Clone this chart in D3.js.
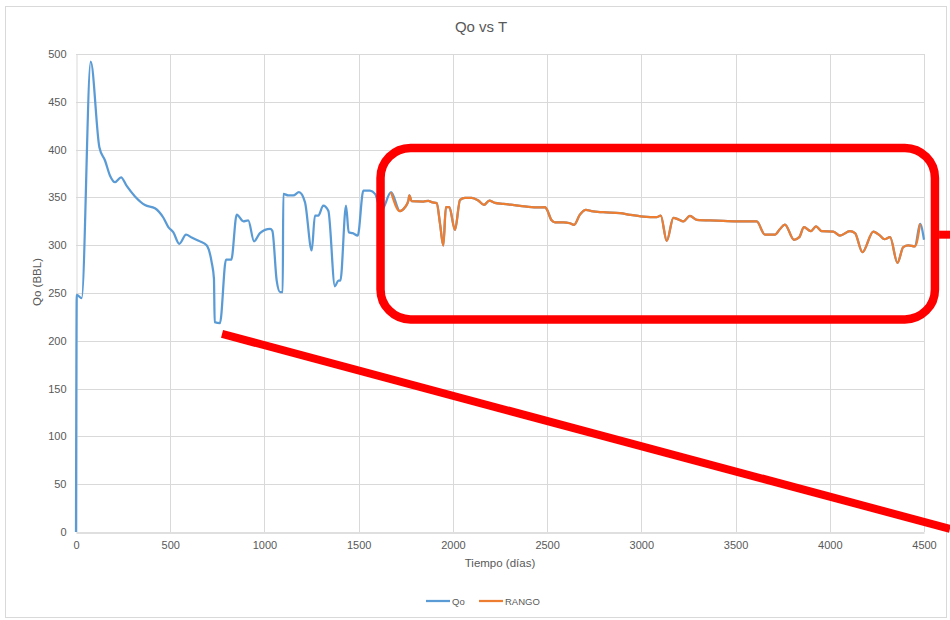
<!DOCTYPE html>
<html>
<head>
<meta charset="utf-8">
<script src="https://cdn.jsdelivr.net/npm/d3@7/dist/d3.min.js"></script>
<style>
  html, body { margin: 0; padding: 0; background: #fff; }
  svg { display: block; font-family: "Liberation Sans", Arial, sans-serif; }
</style>
</head>
<body>
<svg id="chart" width="950" height="620"></svg>
<script>
// ---- data ----
const tiempo = [0, 4, 30, 78, 124, 154, 180, 207, 239, 269, 313, 366, 419, 463, 490, 516, 548, 584, 614, 658, 693, 720, 732, 736, 764, 796, 824, 853, 888, 914, 945, 976, 1030, 1042, 1065, 1083, 1097, 1100, 1127, 1153, 1183, 1215, 1251, 1268, 1286, 1312, 1339, 1374, 1392, 1403, 1433, 1447, 1468, 1495, 1525, 1560, 1587, 1620, 1672, 1719, 1746, 1764, 1769, 1781, 1843, 1870, 1887, 1914, 1932, 1949, 1963, 1981, 2011, 2038, 2064, 2100, 2135, 2165, 2193, 2223, 2268, 2356, 2445, 2489, 2497, 2524, 2542, 2586, 2621, 2643, 2674, 2706, 2736, 2798, 2887, 2940, 3010, 3081, 3103, 3135, 3170, 3196, 3223, 3258, 3294, 3400, 3506, 3612, 3656, 3709, 3736, 3762, 3810, 3838, 3863, 3899, 3927, 3957, 4019, 4054, 4107, 4134, 4173, 4231, 4267, 4290, 4320, 4359, 4390, 4417, 4452, 4479, 4500];
const qo = [0, 248, 244.6, 492, 402.5, 388.6, 373, 366, 371, 362, 351, 342, 338.7, 329, 319, 313.6, 301.5, 311, 308, 304, 300, 282, 265, 219.5, 218.5, 284.8, 284.8, 332, 325, 326, 304, 312.6, 317, 315, 263, 251, 251, 353.8, 352, 352, 355.4, 345, 294.5, 331, 331, 341.5, 336, 257, 263, 263, 341.5, 313.6, 312.6, 310, 357, 357, 353.7, 336, 355.4, 335.6, 339.7, 346.7, 352, 346, 345.7, 346.4, 345, 344, 322, 299.7, 339.7, 339.7, 316, 347.5, 349.6, 349.6, 346.7, 342.2, 346.7, 344.3, 343.3, 341.2, 339.5, 339.7, 338, 326, 324, 324, 323, 321.3, 332, 337, 335.6, 334.5, 333.5, 331.8, 330, 329.3, 331, 304.5, 328.6, 327, 324.8, 330.7, 326.6, 325.8, 325, 324.8, 311, 311, 317, 321.6, 305.7, 308.4, 318.8, 314.7, 319.6, 314.7, 314.3, 310, 314.7, 312.6, 292.7, 314.3, 310, 306.3, 308.4, 281.6, 298, 299.7, 298.7, 322.4, 305.7];
const rangoLimits = [1672, 4479];          // time span highlighted as "RANGO"
const xTicks = [0, 500, 1000, 1500, 2000, 2500, 3000, 3500, 4000, 4500];
const yTicks = [0, 50, 100, 150, 200, 250, 300, 350, 400, 450, 500];
const seriesNames = ["Qo", "RANGO"];
// annotation shapes in data units (time, Qo)
const boxCorners = [[1616, 401.7], [4558, 222.4]];
const boxStub = [[4580, 311], [4650, 311]];
const slashLine = [[775, 207.2], [4638, 3.3]];

// ---- layout ----
const svg = d3.select("#chart");
const colors = { Qo: "#5B9BD5", RANGO: "#ED7D31" };
const textColor = "#595959";

const x = d3.scaleLinear().domain([0, 4500]).range([76, 924]);
const y = d3.scaleLinear().domain([0, 500]).range([532, 54]);

// outer chart frame
svg.append("rect").attr("x", 5.5).attr("y", 6.5).attr("width", 941).attr("height", 611)
  .attr("fill", "#fff").attr("stroke", "#d9d9d9").attr("stroke-width", 1);

// title
svg.append("text").attr("x", 481).attr("y", 32).attr("text-anchor", "middle")
  .attr("font-size", 15).attr("fill", textColor).text("Qo vs T");

// gridlines
const grid = svg.append("g");
grid.selectAll("line.h").data(yTicks.filter(d => d > 0)).join("line")
  .attr("x1", x(0)).attr("x2", x(4500))
  .attr("y1", d => Math.round(y(d)) + 0.5).attr("y2", d => Math.round(y(d)) + 0.5)
  .attr("stroke", "#d9d9d9").attr("stroke-width", 1);
grid.selectAll("line.v").data(xTicks.filter(d => d > 0)).join("line")
  .attr("y1", y(0)).attr("y2", y(500))
  .attr("x1", d => Math.round(x(d)) + 0.5).attr("x2", d => Math.round(x(d)) + 0.5)
  .attr("stroke", "#d9d9d9").attr("stroke-width", 1);

// axes
const xAxis = d3.axisBottom(x).tickValues(xTicks).tickSize(0).tickPadding(9).tickFormat(d3.format("d"));
const gx = svg.append("g").attr("transform", `translate(0,${Math.round(y(0)) + 0.5})`).call(xAxis);
gx.select(".domain").attr("stroke", "#bfbfbf");
gx.selectAll("text").attr("font-size", 11).attr("fill", textColor).attr("font-family", "Liberation Sans, Arial, sans-serif");

const yAxis = d3.axisLeft(y).tickValues(yTicks).tickSize(0).tickPadding(10).tickFormat(d3.format("d"));
const gy = svg.append("g").attr("transform", `translate(${Math.round(x(0)) + 0.5},0)`).call(yAxis);
gy.select(".domain").attr("stroke", "#d9d9d9");
gy.selectAll("text").attr("font-size", 11).attr("fill", textColor).attr("font-family", "Liberation Sans, Arial, sans-serif");

// axis titles
svg.append("text").attr("x", 500).attr("y", 567).attr("text-anchor", "middle")
  .attr("font-size", 11.5).attr("fill", textColor).text("Tiempo (días)");
svg.append("text").attr("transform", "translate(41,282) rotate(-90)").attr("text-anchor", "middle")
  .attr("font-size", 11.5).attr("fill", textColor).text("Qo (BBL)");

// series
const points = tiempo.map((t, i) => ({ t, v: qo[i] }));
const rangoPoints = points.filter(p => p.t >= rangoLimits[0] && p.t <= rangoLimits[1]);
const line = d3.line().x(p => x(p.t)).y(p => y(p.v)).curve(d3.curveMonotoneX);

svg.append("path").datum(points).attr("d", line)
  .attr("fill", "none").attr("stroke", colors.Qo).attr("stroke-width", 2.25).attr("stroke-linejoin", "round");
svg.append("path").datum(rangoPoints).attr("d", line)
  .attr("fill", "none").attr("stroke", colors.RANGO).attr("stroke-width", 2.25).attr("stroke-linejoin", "round");

// legend
const legend = svg.append("g").attr("transform", "translate(426,601)");
const legendOffsets = [0, 53];
seriesNames.forEach((name, i) => {
  const g = legend.append("g").attr("transform", `translate(${legendOffsets[i]},0)`);
  g.append("line").attr("x1", 0).attr("x2", 24).attr("y1", 0).attr("y2", 0)
    .attr("stroke", colors[name]).attr("stroke-width", 2.25);
  g.append("text").attr("x", 26).attr("y", 3.5).attr("font-size", 9.5).attr("fill", textColor).text(name);
});

// red annotations
const red = "#FF0000";
const bx0 = x(boxCorners[0][0]), by0 = y(boxCorners[0][1]);
const bx1 = x(boxCorners[1][0]), by1 = y(boxCorners[1][1]);
svg.append("rect").attr("x", bx0).attr("y", by0).attr("width", bx1 - bx0).attr("height", by1 - by0)
  .attr("rx", 30).attr("ry", 30).attr("fill", "none").attr("stroke", red).attr("stroke-width", 8.5);
svg.append("line")
  .attr("x1", x(boxStub[0][0])).attr("y1", y(boxStub[0][1]))
  .attr("x2", x(boxStub[1][0])).attr("y2", y(boxStub[1][1]))
  .attr("stroke", red).attr("stroke-width", 8);
svg.append("line")
  .attr("x1", x(slashLine[0][0])).attr("y1", y(slashLine[0][1]))
  .attr("x2", x(slashLine[1][0])).attr("y2", y(slashLine[1][1]))
  .attr("stroke", red).attr("stroke-width", 8);
</script>
</body>
</html>
